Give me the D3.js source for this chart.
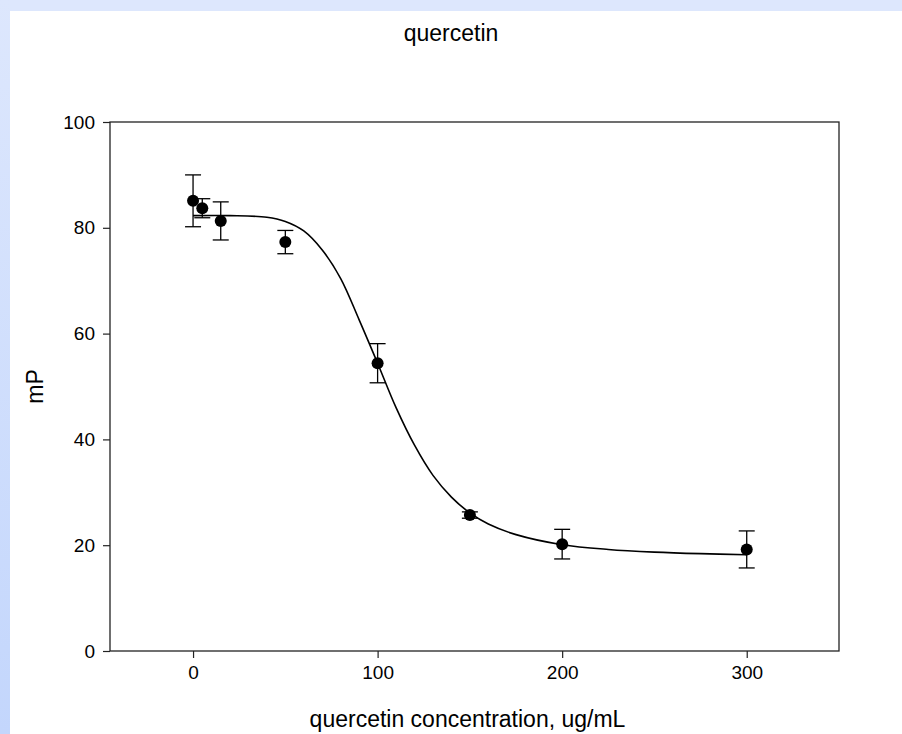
<!DOCTYPE html>
<html>
<head>
<meta charset="utf-8">
<script src="https://cdn.jsdelivr.net/npm/d3@7"></script>
<style>
  html, body { margin: 0; padding: 0; background: #fff; }
  text { font-family: "Liberation Sans", Arial, sans-serif; fill: #000; }
</style>
</head>
<body>
<div id="chart"></div>
<script>
// measured points (mean +- error)
var conc = [0, 5, 15, 50, 100, 150, 200, 300];
var mP = [85.1, 83.7, 81.3, 77.3, 54.4, 25.7, 20.2, 19.2];
var err = [4.9, 1.8, 3.6, 2.2, 3.7, 0.6, 2.8, 3.5];

// fitted curve
var fitX = [0, 20, 40, 50, 60, 70, 80, 90, 100, 110, 120, 130, 140, 150, 160, 175, 200, 225, 250, 275, 300];
var fitY = [82.3, 82.3, 82.0, 81.2, 79.4, 75.8, 70.4, 62.6, 54.4, 46.0, 38.9, 33.2, 29.1, 26.1, 24.0, 22.0, 20.1, 19.2, 18.7, 18.4, 18.2];

var xTicks = [0, 100, 200, 300];
var yTicks = [0, 20, 40, 60, 80, 100];

var W = 902, H = 734;
var margin = { top: 122, right: 63, bottom: 83, left: 110 },
    width = W - margin.left - margin.right,
    height = H - margin.top - margin.bottom;

var svg = d3.select("#chart").append("svg")
    .attr("width", W)
    .attr("height", H);

// light blue frame on top and left
var grad = svg.append("defs").append("linearGradient")
    .attr("id", "side").attr("x1", 0).attr("y1", 0).attr("x2", 0).attr("y2", 1);
grad.append("stop").attr("offset", "0%").attr("stop-color", "#dde7fd");
grad.append("stop").attr("offset", "100%").attr("stop-color", "#c3d6fc");
svg.append("rect").attr("x", 0).attr("y", 0).attr("width", W).attr("height", 11).attr("fill", "#dde7fd");
svg.append("rect").attr("x", 0).attr("y", 0).attr("width", 10).attr("height", H).attr("fill", "url(#side)");

var g = svg.append("g")
    .attr("transform", "translate(" + margin.left + "," + margin.top + ")");

var x = d3.scaleLinear().domain([-45, 350]).range([0, width]);
var y = d3.scaleLinear().domain([0, 100]).range([height, 0]);

// axes
var xAxis = g.append("g")
    .attr("transform", "translate(0," + height + ")")
    .call(d3.axisBottom(x).tickValues(xTicks).tickSize(7).tickPadding(8).tickSizeOuter(0));
var yAxis = g.append("g")
    .call(d3.axisLeft(y).tickValues(yTicks).tickSize(7).tickPadding(8).tickSizeOuter(0));
[xAxis, yAxis].forEach(function(a) {
  a.select(".domain").remove();
  a.selectAll("line").attr("stroke", "#222").attr("stroke-width", 1.2);
  a.selectAll("text").style("font-size", "19px").style("font-family", "Liberation Sans, Arial, sans-serif");
});

// frame
g.append("rect")
    .attr("width", width).attr("height", height)
    .attr("fill", "none").attr("stroke", "#222").attr("stroke-width", 1.3);

// fitted curve
var line = d3.line()
    .x(function(d, i) { return x(fitX[i]); })
    .y(function(d) { return y(d); })
    .curve(d3.curveCatmullRom.alpha(0.5));
g.append("path")
    .datum(fitY)
    .attr("d", line)
    .attr("fill", "none").attr("stroke", "#000").attr("stroke-width", 1.6);

// error bars
var eb = g.selectAll(".eb").data(conc).enter().append("g").attr("class", "eb");
eb.append("line")
    .attr("x1", function(d) { return x(d); }).attr("x2", function(d) { return x(d); })
    .attr("y1", function(d, i) { return y(mP[i] + err[i]); })
    .attr("y2", function(d, i) { return y(mP[i] - err[i]); });
eb.append("line")
    .attr("x1", function(d) { return x(d) - 8; }).attr("x2", function(d) { return x(d) + 8; })
    .attr("y1", function(d, i) { return y(mP[i] + err[i]); })
    .attr("y2", function(d, i) { return y(mP[i] + err[i]); });
eb.append("line")
    .attr("x1", function(d) { return x(d) - 8; }).attr("x2", function(d) { return x(d) + 8; })
    .attr("y1", function(d, i) { return y(mP[i] - err[i]); })
    .attr("y2", function(d, i) { return y(mP[i] - err[i]); });
eb.selectAll("line").attr("stroke", "#000").attr("stroke-width", 1.3);

// points
g.selectAll(".dot").data(conc).enter().append("circle")
    .attr("class", "dot")
    .attr("cx", function(d) { return x(d); })
    .attr("cy", function(d, i) { return y(mP[i]); })
    .attr("r", 6)
    .attr("fill", "#000");

// titles
svg.append("text")
    .attr("x", 451).attr("y", 41)
    .attr("text-anchor", "middle")
    .style("font-size", "23px")
    .text("quercetin");

svg.append("text")
    .attr("x", margin.left + width / 2 - 7).attr("y", 727)
    .attr("text-anchor", "middle")
    .style("font-size", "23px")
    .text("quercetin concentration, ug/mL");

svg.append("text")
    .attr("transform", "translate(43," + (margin.top + height / 2) + ") rotate(-90)")
    .attr("text-anchor", "middle")
    .style("font-size", "23px")
    .text("mP");
</script>
</body>
</html>
